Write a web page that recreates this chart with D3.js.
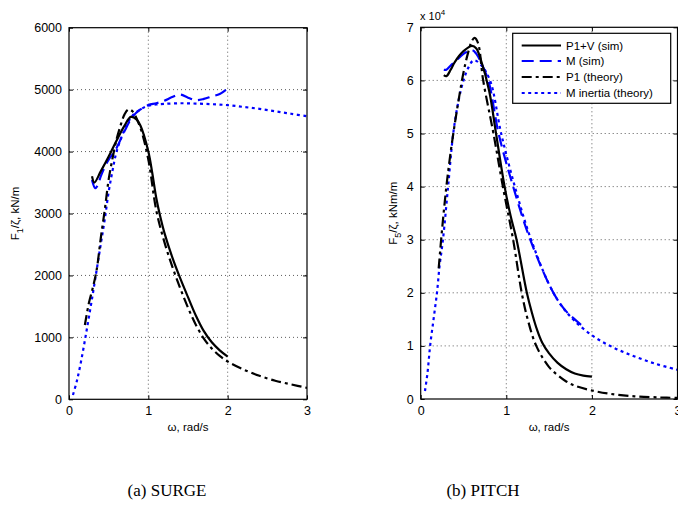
<!DOCTYPE html>
<html><head><meta charset="utf-8">
<script src="https://cdn.jsdelivr.net/npm/d3@7"></script>
<style>body{margin:0;background:#fff}svg{display:block}</style>
</head><body>
<svg id="c" width="678" height="514"></svg>
<script>
// ---------- DATA ----------
// Surge (left), kN/m
const surgeP1V_w = [0.29,0.32,0.4,0.5,0.6,0.7,0.78,0.85,0.9,1.0,1.05,1.1,1.15,1.2,1.3,1.4,1.5,1.6,1.7,1.8,1.9,2.0];
const surgeP1V_v = [3600,3500,3680,3920,4180,4420,4560,4520,4420,4000,3650,3250,2950,2700,2300,1960,1650,1350,1100,920,790,690];
const surgeM_w = [0.29,0.33,0.36,0.4,0.45,0.5,0.55,0.6,0.7,0.8,0.9,1.0,1.1,1.2,1.3,1.4,1.5,1.6,1.7,1.8,1.9,2.0];
const surgeM_v = [3540,3410,3450,3600,3750,3870,3960,4060,4330,4560,4680,4750,4780,4820,4880,4920,4870,4830,4850,4890,4930,5020];
const surgeP1T_w = [0.2,0.25,0.3,0.35,0.4,0.45,0.5,0.55,0.6,0.65,0.7,0.75,0.8,0.9,1.0,1.1,1.2,1.3,1.4,1.5,1.6,1.7,1.8,1.9,2.0,2.2,2.4,2.6,2.8,3.0];
const surgeP1T_v = [1200,1550,1800,2100,2600,3050,3550,3900,4200,4420,4600,4680,4650,4380,3870,3050,2550,2150,1800,1480,1200,980,820,700,610,480,380,300,240,185];
const surgeMI_w = [0.05,0.1,0.15,0.2,0.25,0.3,0.35,0.4,0.45,0.5,0.55,0.6,0.7,0.8,0.9,1.0,1.1,1.2,1.4,1.6,1.8,2.0,2.2,2.4,2.6,2.8,3.0];
const surgeMI_v = [70,300,600,950,1320,1700,2100,2500,2900,3350,3700,4000,4350,4580,4680,4740,4760,4770,4780,4775,4765,4750,4720,4690,4650,4610,4570];

// Pitch (right), x 10^4 kNm/m
const pitchP1V_w = [0.27,0.3,0.35,0.4,0.5,0.6,0.65,0.7,0.8,0.88,0.98,1.05,1.12,1.24,1.3,1.36,1.42,1.5,1.6,1.7,1.8,1.9,2.0];
const pitchP1V_v = [6.1,6.08,6.2,6.35,6.55,6.65,6.6,6.4,5.8,5.0,4.0,3.45,3.0,2.0,1.62,1.3,1.06,0.86,0.68,0.56,0.48,0.44,0.42];
const pitchM_w = [0.27,0.3,0.35,0.4,0.5,0.6,0.65,0.7,0.79,0.91,1.08,1.28,1.55,1.7,1.8,1.92];
const pitchM_v = [6.2,6.2,6.28,6.35,6.5,6.57,6.5,6.35,6.0,5.0,4.0,3.0,2.0,1.65,1.5,1.33];
const pitchP1T_w = [0.21,0.25,0.3,0.35,0.4,0.45,0.5,0.55,0.6,0.63,0.67,0.73,0.85,0.96,1.08,1.18,1.25,1.35,1.5,1.6,1.7,1.8,2.0,2.2,2.5,2.8,3.0];
const pitchP1T_v = [2.46,3.2,4.0,4.65,5.2,5.7,6.15,6.5,6.75,6.8,6.7,6.0,5.0,4.0,3.0,2.0,1.5,1.0,0.6,0.45,0.33,0.25,0.16,0.1,0.05,0.03,0.02];
const pitchMI_w = [0.05,0.08,0.11,0.15,0.19,0.22,0.26,0.32,0.38,0.44,0.5,0.56,0.62,0.7,0.81,0.94,1.1,1.29,1.55,1.75,2.0,2.25,2.5,2.75,3.0];
const pitchMI_v = [0.15,0.5,1.0,1.5,2.0,2.5,3.0,4.0,5.0,5.6,6.0,6.25,6.38,6.3,6.0,5.0,4.0,3.0,2.0,1.55,1.2,0.97,0.8,0.66,0.55];

const xTicks = [0,1,2,3];
const surgeYTicks = [0,1000,2000,3000,4000,5000,6000];
const pitchYTicks = [0,1,2,3,4,5,6,7];
const legendNames = ["P1+V (sim)","M (sim)","P1 (theory)","M inertia (theory)"];

// ---------- STYLES ----------
const styles = [
  {color:"#000", dash:null},
  {color:"#0000ff", dash:"12,6"},
  {color:"#000", dash:"10,4,3,4"},
  {color:"#0000ff", dash:"3,3.5"}
];

const svg = d3.select("#c");
const font = "Liberation Sans, Arial, Helvetica, sans-serif";
const fmt = d3.format("d");

function panel(cfg){
  const x = d3.scaleLinear().domain([0,3]).range([cfg.x0, cfg.x1]);
  const y = d3.scaleLinear().domain(cfg.ydom).range([cfg.y1, cfg.y0]);
  const g = svg.append("g");
  // grid
  const grid = g.append("g").attr("stroke","#333").attr("stroke-width",0.8).attr("stroke-dasharray","1,3");
  xTicks.slice(1,-1).forEach(t=>grid.append("line").attr("x1",x(t)).attr("x2",x(t)).attr("y1",cfg.y0).attr("y2",cfg.y1));
  cfg.yticks.slice(1,-1).forEach(t=>grid.append("line").attr("x1",cfg.x0).attr("x2",cfg.x1).attr("y1",y(t)).attr("y2",y(t)));
  // axes
  const xa = d3.axisBottom(x).tickValues(xTicks).tickFormat(fmt).tickSizeInner(-4).tickSizeOuter(0).tickPadding(7);
  const ya = d3.axisLeft(y).tickValues(cfg.yticks).tickFormat(fmt).tickSizeInner(-4).tickSizeOuter(0).tickPadding(7);
  const xt = d3.axisTop(x).tickValues(xTicks).tickSizeInner(-4).tickSizeOuter(0).tickFormat("");
  const yr = d3.axisRight(y).tickValues(cfg.yticks).tickSizeInner(-4).tickSizeOuter(0).tickFormat("");
  [[xa,`translate(0,${cfg.y1})`],[ya,`translate(${cfg.x0},0)`],[xt,`translate(0,${cfg.y0})`],[yr,`translate(${cfg.x1},0)`]].forEach(([a,tr])=>{
    const ag = g.append("g").attr("transform",tr).call(a);
    ag.select(".domain").remove();
    ag.selectAll("line").attr("stroke","#000");
    ag.selectAll("text").attr("font-family",font).attr("font-size",12.5).attr("fill","#000");
  });
  // data lines
  const line = d3.line().x(d=>x(d[0])).y(d=>y(d[1])).curve(d3.curveCatmullRom.alpha(0.5));
  const clipId = "clip"+cfg.id;
  svg.append("clipPath").attr("id",clipId).append("rect").attr("x",cfg.x0).attr("y",cfg.y0).attr("width",cfg.x1-cfg.x0).attr("height",cfg.y1-cfg.y0);
  const order = [3,1,2,0];
  order.forEach(i=>{
    const s = cfg.series[i];
    const pts = s[0].map((w,k)=>[w,s[1][k]]);
    g.append("path").attr("d",line(pts)).attr("fill","none")
      .attr("stroke",styles[i].color).attr("stroke-width",2.2)
      .attr("stroke-dasharray",styles[i].dash)
      .attr("clip-path",`url(#${clipId})`);
  });
  // box
  g.append("rect").attr("x",cfg.x0).attr("y",cfg.y0).attr("width",cfg.x1-cfg.x0).attr("height",cfg.y1-cfg.y0)
    .attr("fill","none").attr("stroke","#000").attr("stroke-width",1.2);
  // x label
  g.append("text").attr("x",(cfg.x0+cfg.x1)/2).attr("y",431).attr("text-anchor","middle")
    .attr("font-family",font).attr("font-size",11.5).text("ω, rad/s");
  // y label
  const yl = g.append("text").attr("transform",`translate(${cfg.ylx},${(cfg.y0+cfg.y1)/2}) rotate(-90)`)
    .attr("text-anchor","middle").attr("font-family",font).attr("font-size",11.5);
  yl.append("tspan").text("F");
  yl.append("tspan").attr("dy",4).attr("font-size",9).text(cfg.sub);
  yl.append("tspan").attr("dy",-4).text("/ζ, "+cfg.unit);
  return {x,y,g};
}

panel({id:"a", x0:69, x1:307, y0:27.7, y1:399.3, ydom:[0,6000], yticks:surgeYTicks, ylx:19, sub:"1", unit:"kN/m",
  series:[[surgeP1V_w,surgeP1V_v],[surgeM_w,surgeM_v],[surgeP1T_w,surgeP1T_v],[surgeMI_w,surgeMI_v]]});
panel({id:"b", x0:420.7, x1:677.5, y0:27.3, y1:399, ydom:[0,7], yticks:pitchYTicks, ylx:397, sub:"5", unit:"kNm/m",
  series:[[pitchP1V_w,pitchP1V_v],[pitchM_w,pitchM_v],[pitchP1T_w,pitchP1T_v],[pitchMI_w,pitchMI_v]]});

// exponent label
const ex = svg.append("text").attr("x",420).attr("y",20).attr("font-family",font).attr("font-size",11);
ex.append("tspan").text("x 10");
ex.append("tspan").attr("dy",-5).attr("font-size",8).text("4");

// legend
const lg = svg.append("g");
lg.append("rect").attr("x",512.7).attr("y",33.3).attr("width",158).attr("height",70).attr("fill","#fff").attr("stroke","#000").attr("stroke-width",1.2);
const rowsY = [45.5,61,77,93];
legendNames.forEach((n,i)=>{
  lg.append("line").attr("x1",521.7).attr("x2",561).attr("y1",rowsY[i]).attr("y2",rowsY[i])
    .attr("stroke",styles[i].color).attr("stroke-width",2.2).attr("stroke-dasharray",styles[i].dash);
  lg.append("text").attr("x",566).attr("y",rowsY[i]+4).attr("font-family",font).attr("font-size",11.5).text(n);
});

// captions
const serif = "Liberation Serif, Times New Roman, serif";
svg.append("text").attr("x",167).attr("y",496).attr("text-anchor","middle").attr("font-family",serif).attr("font-size",17).text("(a) SURGE");
svg.append("text").attr("x",483).attr("y",496).attr("text-anchor","middle").attr("font-family",serif).attr("font-size",17).text("(b) PITCH");
</script>
</body></html>
